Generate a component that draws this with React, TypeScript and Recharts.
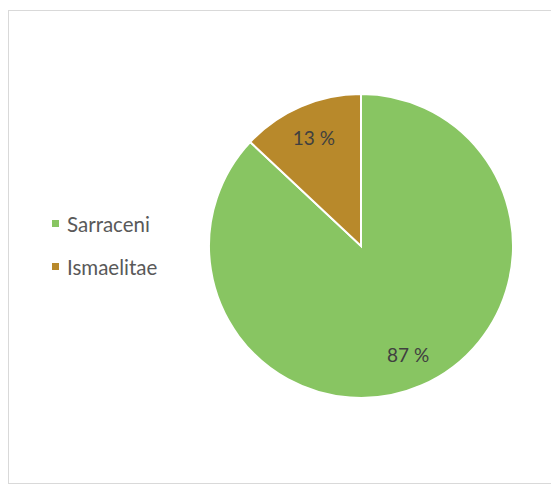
import React from "react";
import { PieChart, Pie, Cell, Legend } from "recharts";

const categories = ["Sarraceni", "Ismaelitae"];
const values = [87, 13];
const colors = ["#88C562", "#B8892B"];

const data = categories.map((name, i) => ({ name, value: values[i] }));

const RAD = Math.PI / 180;

const renderLabel = (props: any) => {
  const { cx, cy, midAngle, outerRadius, value } = props;
  const r = outerRadius * 0.78;
  const x = cx + r * Math.cos(-midAngle * RAD);
  const y = cy + r * Math.sin(-midAngle * RAD);
  return (
    <text
      x={x}
      y={y}
      fill="#404040"
      fontSize={19}
      fontFamily="Lato, 'Open Sans', sans-serif"
      textAnchor="middle"
      dominantBaseline="central"
    >
      {`${value} %`}
    </text>
  );
};

const LegendContent = () => {
  return (
    <div style={{ fontFamily: "Lato, 'Open Sans', sans-serif", fontSize: 20.5, color: "#595959" }}>
      {categories.map((name, i) => (
        <div key={name} style={{ display: "flex", alignItems: "center", height: 43 }}>
          <span
            style={{
              display: "inline-block",
              width: 7,
              height: 7,
              background: colors[i],
              marginRight: 8,
            }}
          />
          <span>{name}</span>
        </div>
      ))}
    </div>
  );
};

export default function App() {
  return (
    <div
      style={{
        marginTop: 2,
        width: 560,
        height: 472,
        border: "1px solid #d9d9d9",
        background: "#ffffff",
        position: "relative",
      }}
    >
      <PieChart width={551} height={472} margin={{ top: 0, right: 0, bottom: 0, left: 0 }}>
        <Pie
          data={data}
          dataKey="value"
          nameKey="name"
          cx={352}
          cy={235}
          outerRadius={152}
          startAngle={90}
          endAngle={-270}
          stroke="#ffffff"
          strokeWidth={2}
          label={renderLabel}
          labelLine={false}
          isAnimationActive={false}
        >
          {data.map((d, i) => (
            <Cell key={d.name} fill={colors[i]} />
          ))}
        </Pie>
        <Legend
          layout="vertical"
          align="center"
          verticalAlign="middle"
          wrapperStyle={{ left: 43, top: 191 }}
          content={<LegendContent />}
        />
      </PieChart>
    </div>
  );
}
